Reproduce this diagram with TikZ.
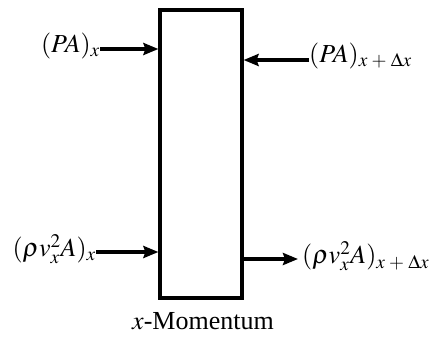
\documentclass[tikz,border=0pt]{standalone}
\usepackage{mathptmx}
\usepackage[no-math]{fontspec}
\setmainfont{Liberation Serif}
\usetikzlibrary{arrows.meta}
\begin{document}
\begin{tikzpicture}[x=1pt,y=-1pt,
  lbl/.style={inner sep=0pt, font=\fontsize{26}{30}\selectfont},
  arr/.style={line width=3.2pt, -{Stealth[length=15pt,width=12pt,inset=2pt]}},
  boxst/.style={draw, line width=3.2pt, minimum width=82pt, minimum height=288pt, inner sep=0pt}]
\useasboundingbox (0,0) rectangle (437,338);
\node[boxst] (box) at (201,154) {};
\node[lbl, anchor=east] (pa) at (100,46) {$(PA)_x$};
\node[lbl, anchor=west] (par) at (309,56) {$(PA)_{x\;+\;\Delta x}$};
\node[lbl, anchor=east] (rl) at (96,249) {$(\rho v_x^2A)_x$};
\node[lbl, anchor=west] (rr) at (302,256) {$(\rho v_x^2A)_{x\;+\;\Delta x}$};
\node[lbl, anchor=center] (mom) at (203,321) {$x$-Momentum};
\draw[arr] ([yshift=-3pt]pa.east) -- ([yshift=-3pt]pa.east -| box.west);
\draw[arr] ([yshift=-4pt]par.west) -- ([yshift=-4pt]par.west -| box.east);
\draw[arr] ([yshift=-3pt]rl.east) -- ([yshift=-3pt]rl.east -| box.west);
\draw[arr] ([yshift=-3pt]rr.west -| box.east) -- ([yshift=-3pt,xshift=-4pt]rr.west);
\end{tikzpicture}
\end{document}
